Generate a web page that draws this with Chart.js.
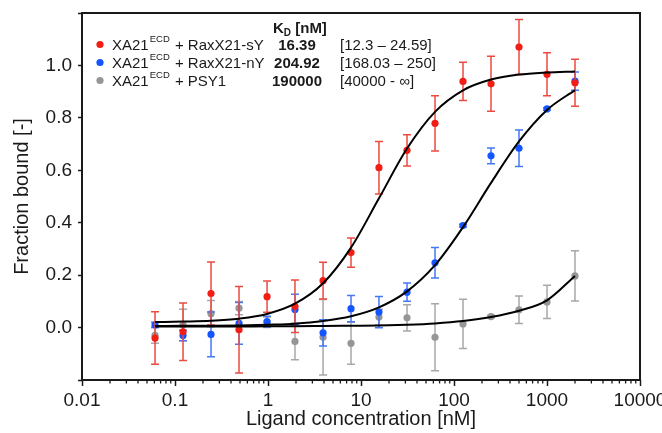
<!DOCTYPE html>
<html>
<head>
<meta charset="utf-8">
<script src="https://cdn.jsdelivr.net/npm/chart.js@4.4.0/dist/chart.umd.min.js"></script>
<style>
    html, body { margin: 0; padding: 0; background: #fff; }
    #caixa { width: 662px; height: 433px; }
</style>
</head>
<body>
<div id="caixa"><canvas id="graficoMST"></canvas></div>
<script>
// concentrations of the dilution series (nM)
const concentracoes = [0.061, 0.122, 0.244, 0.488, 0.977, 1.95, 3.91, 7.81, 15.6, 31.25, 62.5, 125, 250, 500, 1000, 2000];

// measured fraction bound and error (+/-)
const sY = [-0.04, -0.016, 0.13, -0.008, 0.118, 0.081, 0.179, 0.286, 0.61, 0.676, 0.779, 0.939, 0.93, 1.07, 0.966, 0.934];
const sYErro = [0.10, 0.11, 0.12, 0.165, 0.06, 0.10, 0.07, 0.056, 0.10, 0.06, 0.105, 0.073, 0.105, 0.105, 0.082, 0.09];
const nY = [0.01, -0.03, -0.026, 0.016, 0.023, 0.069, -0.02, 0.072, 0.059, 0.135, 0.247, 0.389, 0.655, 0.684, 0.834, 0.94];
const nYErro = [0.01, 0.02, 0.085, 0.08, 0.02, 0.058, 0.05, 0.05, 0.06, 0.035, 0.058, 0.005, 0.03, 0.07, 0.005, 0.035];
const psy1 = [-0.03, 0.01, 0.053, 0.074, 0.02, -0.053, -0.037, -0.06, 0.04, 0.037, -0.037, 0.014, 0.042, 0.068, 0.098, 0.197];
const psy1Erro = [0.03, 0.06, 0.05, 0.025, 0.02, 0.07, 0.144, 0.08, 0.03, 0.05, 0.128, 0.094, 0.005, 0.052, 0.063, 0.096];

// fitted curves at the same concentrations
const ajusteSY = [0.021, 0.023, 0.026, 0.034, 0.052, 0.091, 0.169, 0.305, 0.493, 0.683, 0.823, 0.905, 0.946, 0.965, 0.973, 0.977];
const ajusteNY = [0.006, 0.007, 0.007, 0.008, 0.011, 0.015, 0.025, 0.043, 0.077, 0.138, 0.238, 0.383, 0.552, 0.710, 0.830, 0.906];
const ajustePSY1 = [0.004, 0.004, 0.004, 0.004, 0.005, 0.005, 0.006, 0.007, 0.008, 0.011, 0.016, 0.025, 0.040, 0.064, 0.104, 0.197];

// legend texts
const ligantes = ['RaxX21-sY', 'RaxX21-nY', 'PSY1'];
const valoresKD = ['16.39', '204.92', '190000'];
const intervalosKD = ['[12.3 \u2013 24.59]', '[168.03 \u2013 250]', '[40000 - \u221E]'];

// axis ticks
const decadasX = [0.01, 0.1, 1, 10, 100, 1000, 10000];
const rotulosX = ['0.01', '0.1', '1', '10', '100', '1000', '10000'];
const rotulosY = [0, 0.2, 0.4, 0.6, 0.8, 1.0];

const FONTE = '"Liberation Sans", Arial, Helvetica, sans-serif';
const corTexto = '#1a1a1a';
const cores = ['rgb(240, 30, 20)', 'rgb(20, 85, 255)', 'rgb(150, 150, 150)'];
const coresErro = ['rgb(236, 75, 65)', 'rgb(70, 120, 245)', 'rgb(168, 168, 168)'];

function pontos(ys) {
    return concentracoes.map(function (c, i) { return { x: c, y: ys[i] }; });
}

function indiceDecada(v) {
    return decadasX.findIndex(function (d) { return Math.abs(v - d) / d < 1e-6; });
}

// error bars drawn right before each point dataset
const barrasErro = {
    id: 'barrasErro',
    beforeDatasetDraw: function (chart, args) {
        const ds = chart.data.datasets[args.index];
        if (!ds.erros) return;
        const ctx = chart.ctx;
        const escY = chart.scales.y;
        ctx.save();
        ctx.strokeStyle = ds.corErro;
        ctx.lineWidth = 1.5;
        args.meta.data.forEach(function (p, i) {
            const e = ds.erros[i];
            const y = ds.data[i].y;
            const y1 = escY.getPixelForValue(y + e);
            const y2 = escY.getPixelForValue(y - e);
            ctx.beginPath();
            ctx.moveTo(p.x, y1); ctx.lineTo(p.x, y2);
            ctx.moveTo(p.x - 4, y1); ctx.lineTo(p.x + 4, y1);
            ctx.moveTo(p.x - 4, y2); ctx.lineTo(p.x + 4, y2);
            ctx.stroke();
        });
        ctx.restore();
    }
};

// frame, minor ticks and the KD legend
const moldura = {
    id: 'moldura',
    afterDraw: function (chart) {
        const ctx = chart.ctx;
        const a = chart.chartArea;
        const escX = chart.scales.x;
        ctx.save();
        ctx.strokeStyle = '#1a1a1a';
        ctx.lineWidth = 2;
        ctx.strokeRect(a.left, a.top, a.right - a.left, a.bottom - a.top);

        // minor ticks
        ctx.lineWidth = 1.3;
        ctx.beginPath();
        decadasX.slice(0, -1).forEach(function (d) {
            for (let k = 2; k <= 9; k++) {
                const px = escX.getPixelForValue(k * d);
                ctx.moveTo(px, a.bottom);
                ctx.lineTo(px, a.bottom + 3.5);
            }
        });
        ctx.stroke();

        // legend
        const x0 = 100, xTexto = 112, xValor = 297, xIntervalo = 340;
        const linhas = [49.5, 67.5, 85.5];
        ctx.fillStyle = corTexto;
        ctx.textBaseline = 'alphabetic';
        ctx.font = 'bold 15px ' + FONTE;
        ctx.textAlign = 'left';
        ctx.fillText('K', 273, 33);
        let w = ctx.measureText('K').width;
        ctx.font = 'bold 10px ' + FONTE;
        ctx.fillText('D', 273 + w, 36);
        w += ctx.measureText('D').width;
        ctx.font = 'bold 15px ' + FONTE;
        ctx.fillText(' [nM]', 273 + w, 33);

        linhas.forEach(function (yb, i) {
            ctx.fillStyle = cores[i];
            ctx.beginPath();
            ctx.arc(x0, yb - 5, 3.6, 0, Math.PI * 2);
            ctx.fill();

            ctx.fillStyle = corTexto;
            ctx.textAlign = 'left';
            ctx.font = '15px ' + FONTE;
            ctx.fillText('XA21', xTexto, yb);
            let x = xTexto + ctx.measureText('XA21').width + 1;
            ctx.font = '9.5px ' + FONTE;
            ctx.fillText('ECD', x, yb - 8);
            x += ctx.measureText('ECD').width + 1;
            ctx.font = '15px ' + FONTE;
            ctx.fillText(' + ' + ligantes[i], x, yb);

            ctx.font = 'bold 15px ' + FONTE;
            ctx.textAlign = 'center';
            ctx.fillText(valoresKD[i], xValor, yb);

            ctx.font = '15px ' + FONTE;
            ctx.textAlign = 'left';
            ctx.fillText(intervalosKD[i], xIntervalo, yb);
        });
        ctx.restore();
    }
};

function serieCurva(ys) {
    return {
        type: 'line',
        data: pontos(ys),
        borderColor: '#000',
        borderWidth: 2,
        pointRadius: 0,
        fill: false,
        showLine: true,
        cubicInterpolationMode: 'monotone',
        order: 0
    };
}

function seriePontos(ys, erros, i) {
    return {
        type: 'scatter',
        data: pontos(ys),
        erros: erros,
        corErro: coresErro[i],
        backgroundColor: cores[i],
        borderWidth: 0,
        pointRadius: 3.6,
        order: i + 1
    };
}

Chart.defaults.font.family = FONTE;
Chart.defaults.color = corTexto;

const ctxMST = document.getElementById('graficoMST').getContext('2d');
const graficoMST = new Chart(ctxMST, {
    type: 'scatter',
    data: {
        datasets: [
            seriePontos(sY, sYErro, 0),
            seriePontos(nY, nYErro, 1),
            seriePontos(psy1, psy1Erro, 2),
            serieCurva(ajusteSY),
            serieCurva(ajusteNY),
            serieCurva(ajustePSY1)
        ]
    },
    options: {
        responsive: true,
        maintainAspectRatio: false,
        animation: false,
        layout: { padding: { top: 13, right: 22, left: 0, bottom: 0 } },
        plugins: { legend: { display: false }, tooltip: { enabled: false } },
        scales: {
            x: {
                type: 'logarithmic',
                min: 0.01,
                max: 10000,
                border: { display: false },
                grid: {
                    drawOnChartArea: false,
                    tickLength: 6,
                    tickWidth: 1.5,
                    tickColor: function (c) { return indiceDecada(c.tick.value) >= 0 ? '#1a1a1a' : 'rgba(0,0,0,0)'; }
                },
                ticks: {
                    autoSkip: false,
                    maxRotation: 0,
                    padding: 3,
                    color: corTexto,
                    font: { size: 19 },
                    callback: function (v) {
                        const i = indiceDecada(v);
                        return i >= 0 ? rotulosX[i] : '';
                    }
                },
                title: {
                    display: true,
                    text: 'Ligand concentration [nM]',
                    color: corTexto,
                    font: { size: 20 },
                    padding: { top: 0, bottom: 2 }
                },
                afterFit: function (s) { s.height = 53; s.paddingLeft = 0; s.paddingRight = 0; }
            },
            y: {
                min: -0.2,
                max: 1.2,
                border: { display: false },
                grid: { drawOnChartArea: false, tickLength: 4, tickWidth: 1.5, tickColor: '#1a1a1a' },
                ticks: {
                    stepSize: 0.2,
                    padding: 6,
                    color: corTexto,
                    font: { size: 19 },
                    callback: function (v) {
                        const r = rotulosY.find(function (t) { return Math.abs(t - v) < 1e-6; });
                        return r === undefined ? '' : r.toFixed(1);
                    }
                },
                title: {
                    display: true,
                    text: 'Fraction bound [-]',
                    color: corTexto,
                    font: { size: 20 },
                    padding: { top: 10, bottom: 0 }
                },
                afterFit: function (s) { s.width = 82; s.paddingTop = 0; s.paddingBottom = 0; }
            }
        }
    },
    plugins: [barrasErro, moldura]
});
</script>
</body>
</html>
